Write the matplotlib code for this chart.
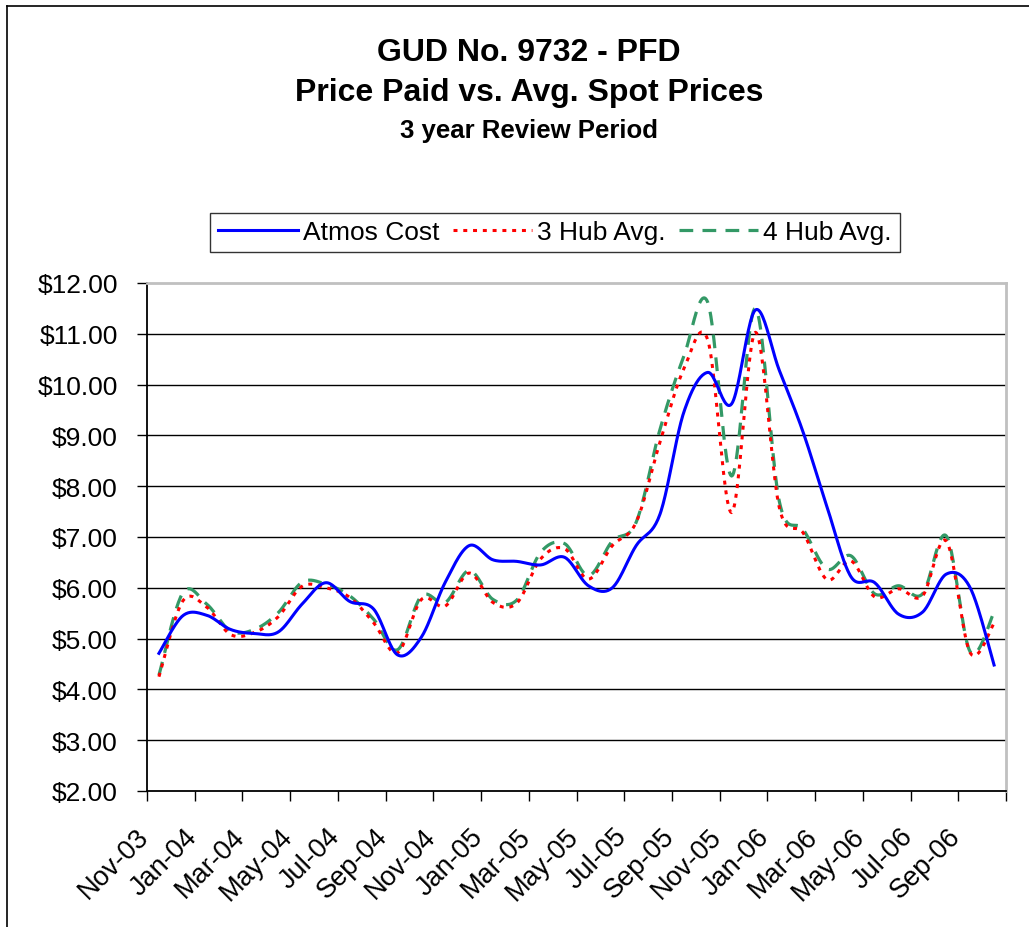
import numpy as np
import matplotlib
matplotlib.use("Agg")
import matplotlib.pyplot as plt
from matplotlib.lines import Line2D
from matplotlib.transforms import ScaledTranslation

plt.rcParams['font.family'] = ['Liberation Sans', 'DejaVu Sans']

months = ['Nov-03', 'Dec-03', 'Jan-04', 'Feb-04', 'Mar-04', 'Apr-04', 'May-04', 'Jun-04',
          'Jul-04', 'Aug-04', 'Sep-04', 'Oct-04', 'Nov-04', 'Dec-04', 'Jan-05', 'Feb-05',
          'Mar-05', 'Apr-05', 'May-05', 'Jun-05', 'Jul-05', 'Aug-05', 'Sep-05', 'Oct-05',
          'Nov-05', 'Dec-05', 'Jan-06', 'Feb-06', 'Mar-06', 'Apr-06', 'May-06', 'Jun-06',
          'Jul-06', 'Aug-06', 'Sep-06', 'Oct-06']

atmos = [4.71, 5.45, 5.46, 5.18, 5.10, 5.13, 5.68, 6.10, 5.73, 5.58, 4.68, 5.03,
         6.11, 6.83, 6.55, 6.52, 6.45, 6.60, 6.04, 6.00, 6.83, 7.45, 9.46, 10.24,
         9.62, 11.47, 10.28, 9.06, 7.59, 6.22, 6.10, 5.48, 5.52, 6.27, 6.00, 4.48]
hub3 = [4.25, 5.74, 5.62, 5.08, 5.12, 5.43, 6.03, 6.00, 5.81, 5.31, 4.72, 5.77,
        5.64, 6.29, 5.71, 5.70, 6.57, 6.77, 6.17, 6.83, 7.29, 8.87, 10.31, 10.88,
        7.48, 11.03, 7.58, 7.08, 6.16, 6.53, 5.82, 5.98, 5.84, 6.92, 4.72, 5.30]
hub4 = [4.28, 5.90, 5.68, 5.15, 5.18, 5.51, 6.11, 6.07, 5.84, 5.38, 4.78, 5.84,
        5.71, 6.34, 5.77, 5.76, 6.70, 6.87, 6.24, 6.92, 7.29, 9.12, 10.56, 11.62,
        8.20, 11.50, 7.70, 7.15, 6.37, 6.63, 5.88, 6.04, 5.88, 7.02, 4.74, 5.52]


def smooth(x, y, n=24):
    # Excel-style smoothed line (Catmull-Rom bezier)
    x = np.asarray(x, float)
    y = np.asarray(y, float)
    px = np.concatenate([[x[0]], x, [x[-1]]])
    py = np.concatenate([[y[0]], y, [y[-1]]])
    t = np.linspace(0, 1, n)[:-1]
    xs, ys = [], []
    for i in range(1, len(px) - 2):
        b0 = np.array([px[i], py[i]])
        b3 = np.array([px[i + 1], py[i + 1]])
        b1 = b0 + (np.array([px[i + 1], py[i + 1]]) - np.array([px[i - 1], py[i - 1]])) / 6
        b2 = b3 - (np.array([px[i + 2], py[i + 2]]) - np.array([px[i], py[i]])) / 6
        pts = (((1 - t) ** 3)[:, None] * b0 + (3 * (1 - t) ** 2 * t)[:, None] * b1
               + (3 * (1 - t) * t ** 2)[:, None] * b2 + (t ** 3)[:, None] * b3)
        xs.append(pts[:, 0])
        ys.append(pts[:, 1])
    xs.append([x[-1]])
    ys.append([y[-1]])
    return np.concatenate(xs), np.concatenate(ys)


fig = plt.figure(figsize=(10.29, 9.28), dpi=100)
ax = fig.add_axes([147 / 1029, 1 - 792 / 928, (1006 - 147) / 1029, (792 - 284) / 928])

xpos = np.arange(len(months)) + 0.5

blue = '#0000FF'
red = '#FF0000'
green = '#339966'

sx, sy = smooth(xpos, atmos)
ax.plot(sx, sy, color=blue, lw=2.2, zorder=5)
sx, sy = smooth(xpos, hub3)
ax.plot(sx, sy, color=red, lw=2.2, linestyle=(0, (1.3, 1.9)), zorder=4)
sx, sy = smooth(xpos, hub4)
ax.plot(sx, sy, color=green, lw=2.3, linestyle=(0, (4.3, 2.9)), zorder=3)

ax.set_xlim(0, 36)
ax.set_ylim(2, 12)
ax.set_yticks(np.arange(2, 13, 1))
ax.set_yticklabels(['${:.2f}'.format(v) for v in np.arange(2, 13, 1)])
ax.set_xticks(np.arange(0, 37, 2))
ax.set_xticklabels(months[::2] + [''], rotation=45, ha='right', va='top',
                   rotation_mode='anchor')
ax.tick_params(axis='y', length=7, width=1, pad=14, labelsize=19, color='black')
ax.tick_params(axis='x', length=7, width=1, pad=16, labelsize=19.5, color='black')
shift = ScaledTranslation(-11 / 100, 0, fig.dpi_scale_trans)
for lab in ax.get_xticklabels():
    lab.set_transform(lab.get_transform() + shift)

for v in range(3, 12):
    ax.axhline(v, color='black', lw=1, zorder=1)

for s in ['top', 'right']:
    ax.spines[s].set_color('#c0c0c0')
    ax.spines[s].set_linewidth(2)
for s in ['left', 'bottom']:
    ax.spines[s].set_color('black')
    ax.spines[s].set_linewidth(1.3)

# titles
fig.text(529 / 1029, 1 - 53 / 928, 'GUD No. 9732 - PFD', ha='center', va='center',
         fontsize=23, fontweight='bold')
fig.text(529 / 1029, 1 - 93 / 928, 'Price Paid vs. Avg. Spot Prices', ha='center',
         va='center', fontsize=23, fontweight='bold')
fig.text(529 / 1029, 1 - 131 / 928, '3 year Review Period', ha='center', va='center',
         fontsize=18.5, fontweight='bold')

handles = [Line2D([], [], color=blue, lw=2.2),
           Line2D([], [], color=red, lw=2.2, linestyle=(0, (1.3, 1.9))),
           Line2D([], [], color=green, lw=2.3, linestyle=(0, (4.3, 2.9)))]
leg = fig.legend(handles, ['Atmos Cost', '3 Hub Avg.', '4 Hub Avg.'], loc='center',
                 bbox_to_anchor=(555 / 1029, 1 - 233.5 / 928), ncol=3, fontsize=19,
                 frameon=True, fancybox=False, edgecolor='black', handlelength=3,
                 handletextpad=0.2, columnspacing=0.5, borderpad=0.3, borderaxespad=0)
leg.get_frame().set_linewidth(1)

# chart border
fig.add_artist(Line2D([7 / 1029, 7 / 1029], [0, 1 - 7 / 928], color='black', lw=1.2))
fig.add_artist(Line2D([7 / 1029, 1], [1 - 7 / 928, 1 - 7 / 928], color='black', lw=1.2))

fig.savefig('out.png', dpi=100)
